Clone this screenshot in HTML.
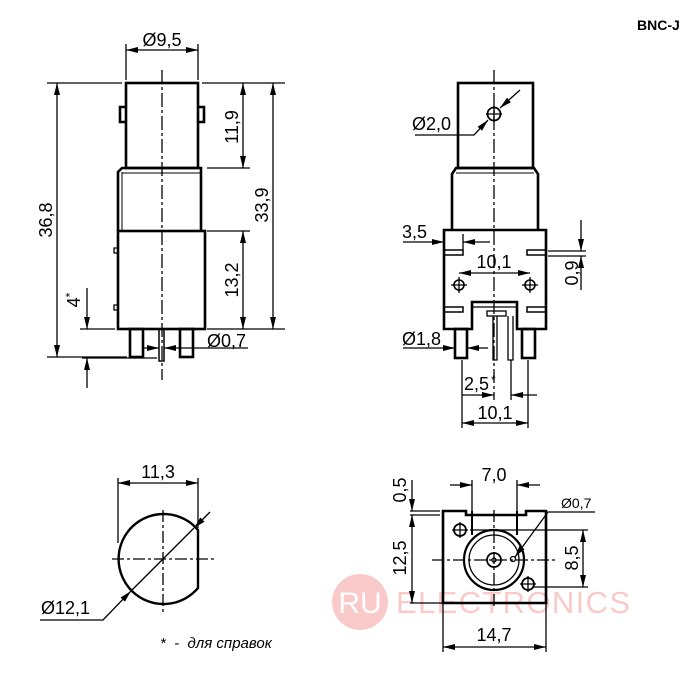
<!DOCTYPE html>
<html><head><meta charset="utf-8"><style>
html,body{margin:0;padding:0;background:#fff;}
svg{display:block;}
text{font-family:"Liberation Sans",Arial,sans-serif;fill:#000;}
</style></head><body>
<svg width="700" height="700" viewBox="0 0 700 700" xmlns="http://www.w3.org/2000/svg">
<defs>
<marker id="a" viewBox="0 0 12 6" refX="12" refY="3" markerWidth="12" markerHeight="6" markerUnits="userSpaceOnUse" orient="auto-start-reverse"><path d="M0,0 L12,3 L0,6 z" fill="#000"/></marker>
</defs>

<!-- watermark -->
<g opacity="0.45">
<circle cx="360" cy="602" r="28" fill="#f58a8a"/>
<text x="360" y="613" font-size="30" text-anchor="middle" style="fill:#fff">RU</text>
<text x="396" y="613" font-size="31" textLength="234" lengthAdjust="spacing" style="fill:#f58a8a">ELECTRONICS</text>
</g>

<text x="637" y="30" font-size="14" font-weight="bold">BNC-J</text>

<g fill="none" stroke="#000" stroke-width="1.3">
<!-- ===== TOP LEFT ===== -->
<g stroke-width="2.6">
<rect x="126" y="83" width="72" height="85"/>
<path d="M126,107 h-6 v15 h6 M198,107 h6 v15 h-6"/>
<path d="M118,231 V172 l4,-4 H201 V231"/>
<rect x="118" y="231" width="87" height="98"/>
<rect x="130" y="329" width="13" height="28"/>
<rect x="180" y="329" width="13" height="28"/>
</g>
<rect x="159" y="329" width="5" height="32" stroke-width="1.5"/>
<path d="M122,172 V231 M122,173 H201" stroke-width="1"/>
<path d="M114,248 h4 v5 h-4z M114,305 h4 v5 h-4z" stroke-width="1.3"/>
<path d="M162,70 V380" stroke-dasharray="14,3,3,3"/>
<path d="M126,44 V80 M198,44 V80"/>
<path d="M126,50 H198" marker-start="url(#a)" marker-end="url(#a)"/>
<path d="M47,83 H122 M202,83 H285"/>
<path d="M57,83 V357" marker-start="url(#a)" marker-end="url(#a)"/>
<path d="M47,357 H127"/>
<path d="M207,168 H250"/>
<path d="M243,83 V168" marker-start="url(#a)" marker-end="url(#a)"/>
<path d="M273,83 V329" marker-start="url(#a)" marker-end="url(#a)"/>
<path d="M207,231 H250 M207,329 H285"/>
<path d="M243,231 V329" marker-start="url(#a)" marker-end="url(#a)"/>
<path d="M80,329 H115 M82,358 H157"/>
<path d="M87,288 V329" marker-end="url(#a)"/>
<path d="M87,388 V358" marker-end="url(#a)"/>
<path d="M142,348 H159" marker-end="url(#a)"/>
<path d="M248,348 H164" marker-end="url(#a)"/>

<!-- ===== TOP RIGHT ===== -->
<g stroke-width="2.6">
<rect x="458" y="83" width="75" height="85"/>
<path d="M452,230 V174 l4,-6 H534 l4,6 V230"/>
<path d="M444,230 H546 V329 H517 V302 H472 V329 H444 Z"/>
<rect x="455" y="329" width="12" height="29"/>
<rect x="522" y="329" width="13" height="29"/>
</g>
<path d="M456,173 H534" stroke-width="1"/>
<path d="M472,307 H517" stroke-width="1.3"/>
<rect x="487" y="311" width="19" height="5" stroke-width="1.3"/>
<path d="M493,316 V360 H497 V316 M508,316 V360 H513 V316" stroke-width="1.3"/>
<path d="M444,250 H463 V255 H444 M546,250 H527 V255 H546 M444,307 H463 V312 H444 M546,307 H527 V312 H546" stroke-width="1.5"/>
<circle cx="494" cy="114" r="6.5" stroke-width="1.8"/>
<path d="M486,114 h16 M494,106 v16"/>
<circle cx="459" cy="285" r="5" stroke-width="1.6"/>
<circle cx="530" cy="285" r="5" stroke-width="1.6"/>
<path d="M451,285 h16 M459,277 v16 M522,285 h16 M530,277 v16"/>
<path d="M494,70 V400" stroke-dasharray="14,3,3,3"/>
<path d="M520,90 L500,108" marker-end="url(#a)"/>
<path d="M415,135 H474 L488,120" marker-end="url(#a)"/>
<path d="M459,273 H530" marker-start="url(#a)" marker-end="url(#a)"/>
<path d="M403,242 H444" marker-end="url(#a)"/>
<path d="M490,242 H463" marker-end="url(#a)"/>
<path d="M463,234 V250"/>
<path d="M548,251 H586 M548,256 H586"/>
<path d="M581,220 V251" marker-end="url(#a)"/>
<path d="M581,290 V256" marker-end="url(#a)"/>
<path d="M403,348 H455" marker-end="url(#a)"/>
<path d="M488,348 H467" marker-end="url(#a)"/>
<path d="M462,360 V428 M511,360 V400 M528,360 V428"/>
<path d="M462,395 H494" marker-end="url(#a)"/>
<path d="M537,395 H511" marker-end="url(#a)"/>
<path d="M462,423 H528" marker-start="url(#a)" marker-end="url(#a)"/>

<!-- ===== BOTTOM RIGHT ===== -->
<g stroke-width="2.6">
<path d="M443,603 V511 H466 V515 H526 V511 H546 V603 Z"/>
</g>
<path d="M472,511 V535 M517,511 V535" stroke-width="2"/>
<circle cx="494" cy="560" r="30" stroke-width="2.2"/>
<circle cx="494" cy="560" r="25" stroke-width="1.3"/>
<circle cx="494" cy="560" r="7" stroke-width="1.8"/>
<circle cx="494" cy="560" r="2" stroke-width="1.3"/>
<circle cx="513" cy="559" r="2.5" stroke-width="1.3"/>
<circle cx="460" cy="530" r="6" stroke-width="1.8"/>
<circle cx="528" cy="584" r="6" stroke-width="1.8"/>
<path d="M452,530 h16 M460,522 v16 M520,584 h16 M528,576 v16"/>
<path d="M432,560 H555" stroke-dasharray="12,3,3,3"/>
<path d="M494,510 V608" stroke-dasharray="12,3,3,3"/>
<path d="M472,480 V511 M517,480 V511"/>
<path d="M450,485 H472" marker-end="url(#a)"/>
<path d="M540,485 H517" marker-end="url(#a)"/>
<path d="M410,511 H440 M410,515 H440 M410,603 H443"/>
<path d="M412,480 V511" marker-end="url(#a)"/>
<path d="M412,515 V603" marker-start="url(#a)" marker-end="url(#a)"/>
<path d="M595,512 H548 L515,557" marker-end="url(#a)"/>
<path d="M470,530 H588 M533,587 H588"/>
<path d="M583,530 V587" marker-start="url(#a)" marker-end="url(#a)"/>
<path d="M443,603 V652 M546,603 V652"/>
<path d="M443,647 H546" marker-start="url(#a)" marker-end="url(#a)"/>

<!-- ===== BOTTOM LEFT ===== -->
<path d="M198,530 A45,45 0 1 0 198,588 Z" stroke-width="2.4"/>
<path d="M112,559 H215 M163,510 V615" stroke-dasharray="12,3,3,3"/>
<path d="M118,478 V543 M198,478 V528"/>
<path d="M118,483 H198" marker-start="url(#a)" marker-end="url(#a)"/>
<path d="M210,512 L194,528" marker-end="url(#a)"/>
<path d="M40,620 H103 L131,591" marker-end="url(#a)"/>
<path d="M131,591 L194,528"/>
</g>

<!-- ===== TEXT ===== -->
<g font-size="18">
<text x="162" y="46" text-anchor="middle">Ø9,5</text>
<text transform="translate(52,220) rotate(-90)" text-anchor="middle">36,8</text>
<text transform="translate(238,127) rotate(-90)" text-anchor="middle">11,9</text>
<text transform="translate(268,205) rotate(-90)" text-anchor="middle">33,9</text>
<text transform="translate(238,280) rotate(-90)" text-anchor="middle">13,2</text>
<text transform="translate(80,300) rotate(-90)" text-anchor="middle">4<tspan font-size="12" dy="-6">*</tspan></text>
<text x="207" y="347">Ø0,7</text>

<text x="412" y="130">Ø2,0</text>
<text x="402" y="238">3,5</text>
<text x="494" y="268" text-anchor="middle">10,1</text>
<text transform="translate(578,273) rotate(-90)" text-anchor="middle">0,9</text>
<text x="402" y="345">Ø1,8</text>
<text x="464" y="390">2,5<tspan font-size="12" dx="2" dy="-6">*</tspan></text>
<text x="495" y="419" text-anchor="middle">10,1</text>

<text x="494" y="481" text-anchor="middle">7,0</text>
<text transform="translate(406,490) rotate(-90)" text-anchor="middle">0,5</text>
<text transform="translate(406,558) rotate(-90)" text-anchor="middle">12,5</text>
<text x="561" y="508" font-size="14">Ø0,7</text>
<text transform="translate(578,558) rotate(-90)" text-anchor="middle">8,5</text>
<text x="494" y="641" text-anchor="middle">14,7</text>

<text x="158" y="478" text-anchor="middle">11,3</text>
<text x="41" y="614">Ø12,1</text>
<text x="160" y="648" font-size="15" font-style="italic" xml:space="preserve">*  -  для справок</text>
</g>
</svg>
</body></html>
